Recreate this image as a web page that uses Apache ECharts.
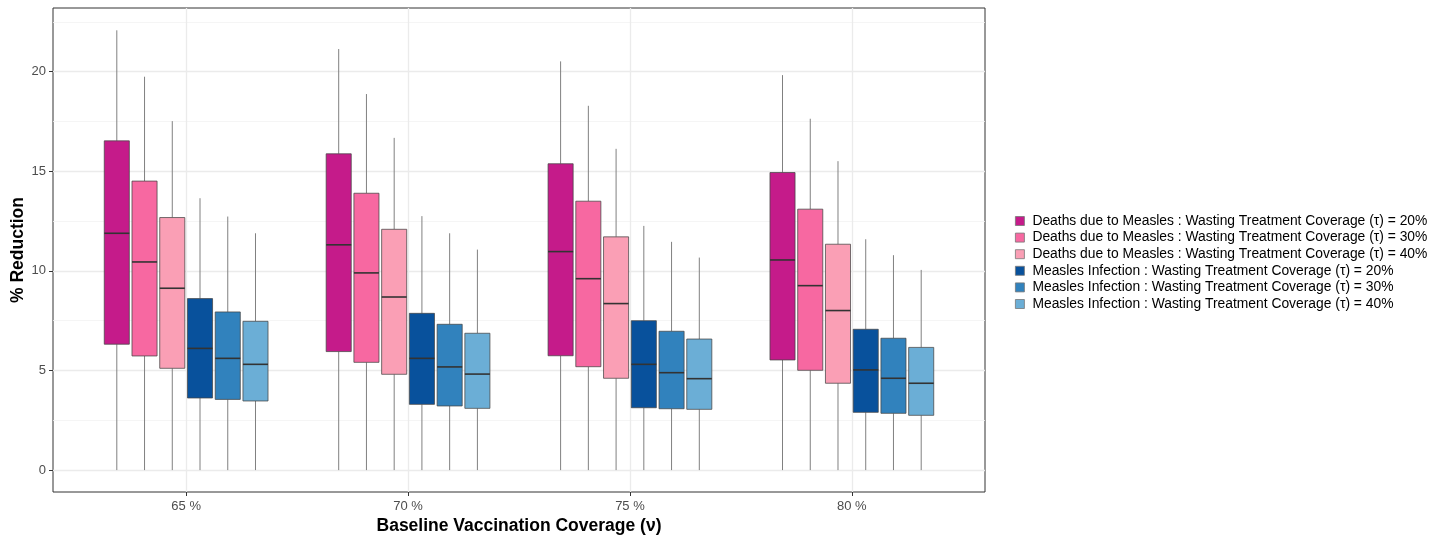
<!DOCTYPE html>
<html>
<head>
<meta charset="utf-8">
<script src="https://cdn.jsdelivr.net/npm/echarts@6/dist/echarts.min.js"></script>
<style>
html,body{margin:0;padding:0;background:#fff;}
#chart{width:1435px;height:538px;}
</style>
</head>
<body>
<div id="chart"></div>
<script>
// ---- data ----
const categories = ['65 %', '70 %', '75 %', '80 %'];
const seriesNames = [
  'Deaths due to Measles : Wasting Treatment Coverage (\u03c4) = 20%',
  'Deaths due to Measles : Wasting Treatment Coverage (\u03c4) = 30%',
  'Deaths due to Measles : Wasting Treatment Coverage (\u03c4) = 40%',
  'Measles Infection : Wasting Treatment Coverage (\u03c4) = 20%',
  'Measles Infection : Wasting Treatment Coverage (\u03c4) = 30%',
  'Measles Infection : Wasting Treatment Coverage (\u03c4) = 40%'
];
// each entry: [min, q1, median, q3, max] per category
const deaths20 = [[0, 6.32, 11.89, 16.53, 22.08], [0, 5.95, 11.31, 15.88, 21.14], [0, 5.74, 10.97, 15.38, 20.52], [0, 5.53, 10.55, 14.94, 19.83]];
const deaths30 = [[0, 5.73, 10.45, 14.51, 19.75], [0, 5.41, 9.90, 13.90, 18.88], [0, 5.19, 9.61, 13.50, 18.29], [0, 5.01, 9.26, 13.10, 17.64]];
const deaths40 = [[0, 5.11, 9.13, 12.68, 17.52], [0, 4.81, 8.69, 12.09, 16.68], [0, 4.61, 8.36, 11.71, 16.13], [0, 4.36, 8.01, 11.34, 15.51]];
const infect20 = [[0, 3.62, 6.11, 8.61, 13.65], [0, 3.30, 5.61, 7.87, 12.75], [0, 3.13, 5.31, 7.50, 12.26], [0, 2.90, 5.03, 7.07, 11.59]];
const infect30 = [[0, 3.55, 5.61, 7.94, 12.73], [0, 3.22, 5.18, 7.32, 11.89], [0, 3.08, 4.89, 6.97, 11.46], [0, 2.85, 4.61, 6.62, 10.79]];
const infect40 = [[0, 3.47, 5.31, 7.47, 11.89], [0, 3.10, 4.82, 6.87, 11.07], [0, 3.05, 4.59, 6.58, 10.67], [0, 2.75, 4.36, 6.16, 10.05]];
const yMajorTicks = [0, 5, 10, 15, 20];
const yMinorTicks = [2.5, 7.5, 12.5, 17.5, 22.5];
const colors = ['#C51B8A', '#F768A1', '#FA9FB5', '#08519C', '#3182BD', '#6BAED6'];

const allSeries = [deaths20, deaths30, deaths40, infect20, infect30, infect40];
const SLOT = 0.125;   // dodge slot width (x units)
const BOXW = 0.113;   // box width (x units)
const FONT = '"Liberation Sans", Arial, sans-serif';

const chart = echarts.init(document.getElementById('chart'), null, {renderer: 'canvas'});

function renderBox(params, api) {
  const si = params.seriesIndex;
  const x = api.value(0) + (si - 2.5) * SLOT;
  const pMin = api.coord([x, api.value(1)]);
  const pQ1 = api.coord([x, api.value(2)]);
  const pMed = api.coord([x, api.value(3)]);
  const pQ3 = api.coord([x, api.value(4)]);
  const pMax = api.coord([x, api.value(5)]);
  const w = api.size([BOXW, 0])[0];
  const cx = pMed[0];
  const whisk = {stroke: '#808080', lineWidth: 1};
  return {
    type: 'group',
    children: [
      {type: 'line', shape: {x1: cx, y1: pQ3[1], x2: cx, y2: pMax[1]}, style: whisk},
      {type: 'line', shape: {x1: cx, y1: pMin[1], x2: cx, y2: pQ1[1]}, style: whisk},
      {type: 'rect', shape: {x: cx - w / 2, y: pQ3[1], width: w, height: pQ1[1] - pQ3[1]},
        style: {fill: colors[si], stroke: 'rgba(70,70,70,0.75)', lineWidth: 1}},
      {type: 'line', shape: {x1: cx - w / 2, y1: pMed[1], x2: cx + w / 2, y2: pMed[1]},
        style: {stroke: '#333333', lineWidth: 1.6}}
    ]
  };
}

const series = allSeries.map(function (arr, i) {
  return {
    name: seriesNames[i],
    type: 'custom',
    renderItem: renderBox,
    itemStyle: {color: colors[i]},
    encode: {x: 0, y: [1, 2, 3, 4, 5]},
    data: arr.map(function (d, ci) { return [ci + 1].concat(d); }),
    z: 5
  };
});

const option = {
  backgroundColor: '#ffffff',
  animation: false,
  grid: {left: 53, right: 450, top: 8, bottom: 46, show: true, borderColor: '#333333', borderWidth: 1,
    containLabel: false, outerBoundsMode: 'none'},
  legend: {
    orient: 'vertical',
    left: 1010,
    top: 209,
    icon: 'rect',
    itemWidth: 9,
    itemHeight: 9,
    itemGap: 2.6,
    itemStyle: {borderColor: '#777777', borderWidth: 0.8},
    textStyle: {fontFamily: FONT, fontSize: 13.85, color: '#000000', lineHeight: 14, padding: [0, 0, 0, 3]},
    data: seriesNames
  },
  xAxis: {
    type: 'value',
    min: 0.4,
    max: 4.6,
    name: 'Baseline Vaccination Coverage (\u03bd)',
    nameLocation: 'middle',
    nameGap: 25,
    nameMoveOverlap: false,
    nameTextStyle: {fontFamily: FONT, fontSize: 17.5, fontWeight: 'bold', color: '#000000'},
    axisLine: {show: false, onZero: false},
    axisTick: {show: true, length: 4, lineStyle: {color: '#333333', width: 1}, customValues: [1, 2, 3, 4]},
    axisLabel: {
      customValues: [1, 2, 3, 4],
      margin: 8,
      fontFamily: FONT, fontSize: 13, color: '#4d4d4d',
      formatter: function (v) { return categories[Math.round(v) - 1] || ''; }
    },
    splitLine: {show: true, lineStyle: {color: '#ebebeb', width: 1.3}}
  },
  yAxis: [
    {
      type: 'value',
      min: -1.1,
      max: 23.2,
      name: '% Reduction',
      nameLocation: 'middle',
      nameGap: 26,
      nameRotate: 90,
      nameMoveOverlap: false,
      nameTextStyle: {fontFamily: FONT, fontSize: 17.5, fontWeight: 'bold', color: '#000000'},
      axisLine: {show: false, onZero: false},
      axisTick: {show: true, length: 4, lineStyle: {color: '#333333', width: 1}, customValues: yMajorTicks},
      axisLabel: {customValues: yMajorTicks, margin: 7, fontFamily: FONT, fontSize: 13, color: '#4d4d4d'},
      splitLine: {show: true, lineStyle: {color: '#ebebeb', width: 1.3}}
    },
    {
      type: 'value',
      min: -1.1,
      max: 23.2,
      position: 'left',
      axisLine: {show: false, onZero: false},
      axisTick: {show: false, customValues: yMinorTicks},
      axisLabel: {show: false, customValues: yMinorTicks},
      splitLine: {show: true, lineStyle: {color: '#f2f2f2', width: 0.8}}
    }
  ],
  series: series
};

chart.setOption(option);
</script>
</body>
</html>
